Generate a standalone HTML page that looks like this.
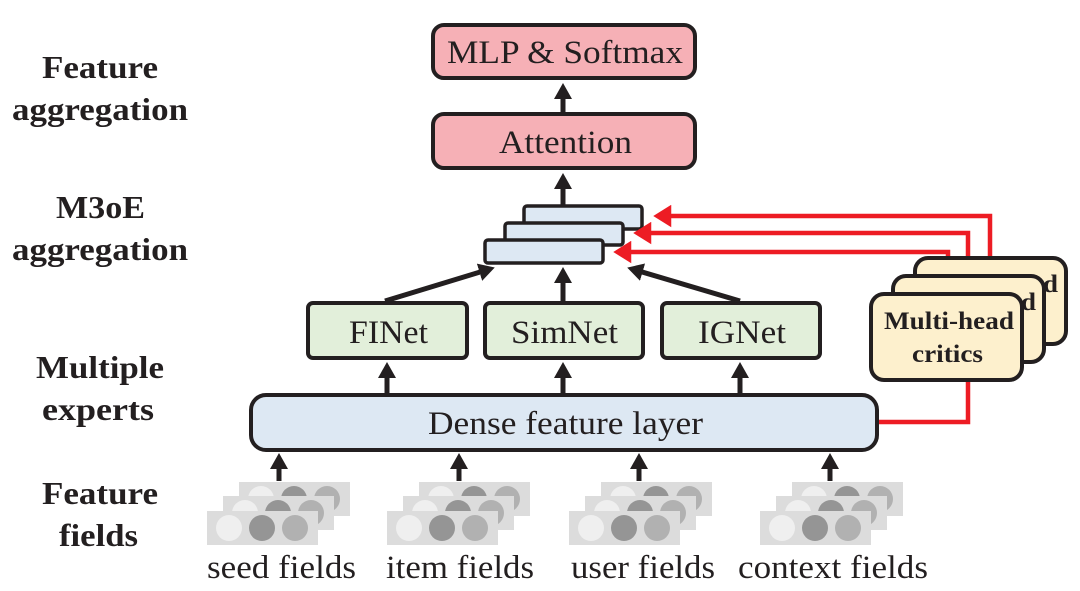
<!DOCTYPE html>
<html><head><meta charset="utf-8"><style>
html,body{margin:0;padding:0;background:#fff;width:1080px;height:591px;overflow:hidden}
svg{display:block}
text{font-family:"Liberation Serif",serif;fill:#231f20}
.b{font-weight:bold}
</style></head><body>
<svg width="1080" height="591" viewBox="0 0 1080 591" xmlns="http://www.w3.org/2000/svg">
<defs>
<marker id="ak" markerWidth="4" markerHeight="4" refX="2.2" refY="2" orient="auto" markerUnits="strokeWidth">
<path d="M0,0.2 L3.2,2 L0,3.8 Z" fill="#231f20"/></marker>
<marker id="ar" markerWidth="5" markerHeight="5" refX="2.5" refY="2.5" orient="auto" markerUnits="strokeWidth">
<path d="M0,0 L4,2.5 L0,5 Z" fill="#ed1c24"/></marker>
</defs>

<!-- left labels -->
<g font-size="32" font-weight="bold">
<text x="42" y="78" textLength="116" lengthAdjust="spacingAndGlyphs" class="b">Feature</text>
<text x="12" y="120" textLength="176" lengthAdjust="spacingAndGlyphs" class="b">aggregation</text>
<text x="56" y="218" textLength="89" lengthAdjust="spacingAndGlyphs" class="b">M3oE</text>
<text x="12" y="260" textLength="176" lengthAdjust="spacingAndGlyphs" class="b">aggregation</text>
<text x="36" y="378" textLength="128" lengthAdjust="spacingAndGlyphs" class="b">Multiple</text>
<text x="42" y="420" textLength="112" lengthAdjust="spacingAndGlyphs" class="b">experts</text>
<text x="42" y="504" textLength="116" lengthAdjust="spacingAndGlyphs" class="b">Feature</text>
<text x="59" y="546" textLength="79" lengthAdjust="spacingAndGlyphs" class="b">fields</text>
</g>

<!-- top boxes -->
<rect x="433" y="25" width="262" height="53" rx="11" fill="#f6b0b6" stroke="#231f20" stroke-width="4"/>
<text x="447" y="63" font-size="33" textLength="236" lengthAdjust="spacingAndGlyphs">MLP &amp; Softmax</text>
<rect x="433" y="114" width="262" height="54" rx="11" fill="#f6b0b6" stroke="#231f20" stroke-width="4"/>
<text x="499" y="153" font-size="33" textLength="133" lengthAdjust="spacingAndGlyphs">Attention</text>
<line x1="563" y1="112" x2="563" y2="88" stroke="#231f20" stroke-width="5" marker-end="url(#ak)"/>
<line x1="563" y1="205" x2="563" y2="178" stroke="#231f20" stroke-width="5" marker-end="url(#ak)"/>

<!-- stacked boxes -->
<rect x="524" y="206" width="118" height="23" rx="3" fill="#dde8f3" stroke="#231f20" stroke-width="3.5"/>
<rect x="505" y="223" width="118" height="22" rx="3" fill="#dde8f3" stroke="#231f20" stroke-width="3.5"/>
<rect x="485" y="240" width="118" height="23" rx="3" fill="#dde8f3" stroke="#231f20" stroke-width="3.5"/>

<!-- red lines -->
<g fill="none" stroke="#ed1c24" stroke-width="4.5">
<polyline points="990,258 990,216 660,216" marker-end="url(#ar)"/>
<polyline points="968,276 968,233 640,233" marker-end="url(#ar)"/>
<polyline points="948,294 948,252 620,252" marker-end="url(#ar)"/>
<polyline points="968,380 968,422 878,422"/>
</g>

<!-- critics -->
<rect x="915" y="258" width="151" height="86" rx="13" fill="#fdf0cd" stroke="#231f20" stroke-width="4"/>
<text x="928" y="292" font-size="25" class="b" textLength="130" lengthAdjust="spacingAndGlyphs">Multi-head</text>
<rect x="893" y="276" width="151" height="86" rx="13" fill="#fdf0cd" stroke="#231f20" stroke-width="4"/>
<text x="906" y="310" font-size="25" class="b" textLength="130" lengthAdjust="spacingAndGlyphs">Multi-head</text>
<rect x="871" y="294" width="151" height="86" rx="13" fill="#fdf0cd" stroke="#231f20" stroke-width="4"/>
<text x="884" y="329" font-size="25" class="b" textLength="130" lengthAdjust="spacingAndGlyphs">Multi-head</text>
<text x="912" y="362" font-size="25" class="b" textLength="71" lengthAdjust="spacingAndGlyphs">critics</text>

<!-- experts -->
<g fill="#e2efda" stroke="#231f20" stroke-width="4">
<rect x="308" y="303" width="159" height="55" rx="5"/>
<rect x="485" y="303" width="158" height="55" rx="5"/>
<rect x="662" y="303" width="158" height="55" rx="5"/>
</g>
<g font-size="33">
<text x="349" y="343" textLength="79" lengthAdjust="spacingAndGlyphs">FINet</text>
<text x="511" y="343" textLength="107" lengthAdjust="spacingAndGlyphs">SimNet</text>
<text x="698" y="343" textLength="88" lengthAdjust="spacingAndGlyphs">IGNet</text>
</g>
<g stroke="#231f20" stroke-width="5">
<line x1="385" y1="301" x2="490" y2="269" marker-end="url(#ak)"/>
<line x1="563" y1="301" x2="563" y2="272" marker-end="url(#ak)"/>
<line x1="740" y1="301" x2="632" y2="269" marker-end="url(#ak)"/>
<line x1="387" y1="393" x2="387" y2="367" marker-end="url(#ak)"/>
<line x1="563" y1="393" x2="563" y2="367" marker-end="url(#ak)"/>
<line x1="740" y1="393" x2="740" y2="367" marker-end="url(#ak)"/>
<line x1="279" y1="481" x2="279" y2="458" marker-end="url(#ak)"/>
<line x1="459" y1="481" x2="459" y2="458" marker-end="url(#ak)"/>
<line x1="639" y1="481" x2="639" y2="458" marker-end="url(#ak)"/>
<line x1="830" y1="481" x2="830" y2="458" marker-end="url(#ak)"/>
</g>

<!-- dense -->
<rect x="251" y="395" width="626" height="55" rx="15" fill="#dde8f3" stroke="#231f20" stroke-width="4"/>
<text x="428" y="434" font-size="33" textLength="275" lengthAdjust="spacingAndGlyphs">Dense feature layer</text>

<!-- field icons -->
<g id="fi">
<rect x="239" y="482" width="111" height="34" fill="#dcdcdc"/>
<circle cx="261" cy="499" r="13" fill="#efefef"/><circle cx="294" cy="499" r="13" fill="#959595"/><circle cx="327" cy="499" r="13" fill="#b1b1b1"/>
<rect x="223" y="496" width="111" height="34" fill="#dcdcdc"/>
<circle cx="245" cy="513" r="13" fill="#efefef"/><circle cx="278" cy="513" r="13" fill="#959595"/><circle cx="311" cy="513" r="13" fill="#b1b1b1"/>
<rect x="207" y="511" width="111" height="34" fill="#dcdcdc"/>
<circle cx="229" cy="528" r="13" fill="#efefef"/><circle cx="262" cy="528" r="13" fill="#959595"/><circle cx="295" cy="528" r="13" fill="#b1b1b1"/>
</g>
<use href="#fi" x="180"/>
<use href="#fi" x="362"/>
<use href="#fi" x="553"/>
<g font-size="33">
<text x="207" y="578" textLength="149" lengthAdjust="spacingAndGlyphs">seed fields</text>
<text x="386" y="578" textLength="148" lengthAdjust="spacingAndGlyphs">item fields</text>
<text x="571" y="578" textLength="144" lengthAdjust="spacingAndGlyphs">user fields</text>
<text x="738" y="578" textLength="190" lengthAdjust="spacingAndGlyphs">context fields</text>
</g>
</svg>
</body></html>
